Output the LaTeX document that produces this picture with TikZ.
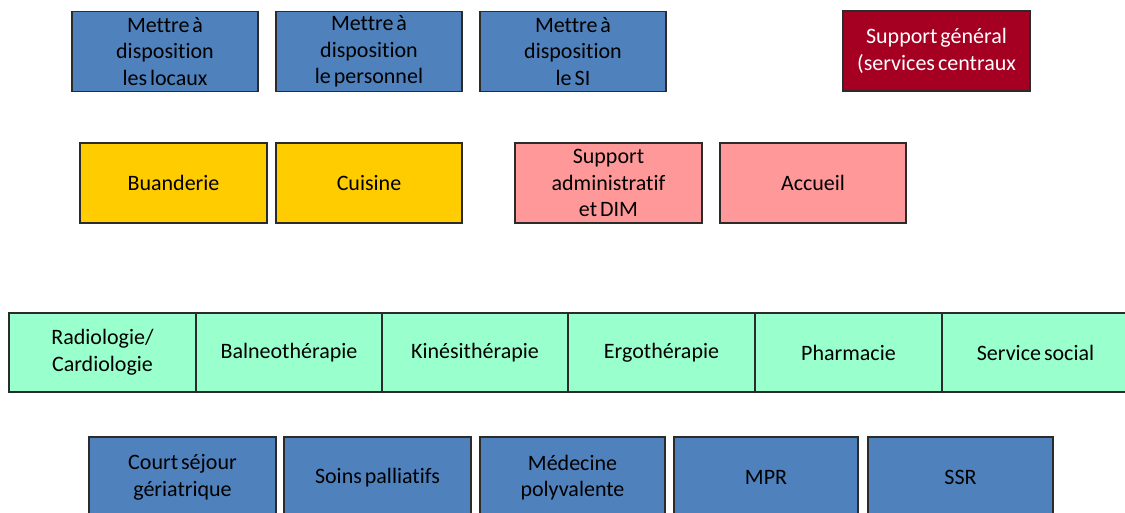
\documentclass[tikz,border=0pt]{standalone}
\usepackage{fontspec}
\setmainfont[WordSpace=0.6,Ligatures={NoCommon}]{Carlito}
\definecolor{cblue}{HTML}{4F81BD}
\definecolor{cred}{HTML}{A50021}
\definecolor{cyellow}{HTML}{FFCC00}
\definecolor{cpink}{HTML}{FF9999}
\definecolor{cgreen}{HTML}{99FFCC}
\definecolor{cline}{HTML}{2B2B2B}
\tikzset{
  box/.style={draw=cline, line width=1.1pt, rectangle, inner sep=0pt, align=center,
    minimum height=80pt, font=\fontsize{22}{26.5}\selectfont, text=black},
  wbox/.style={box, minimum width=186pt},
}
\begin{document}
\begin{tikzpicture}[x=1pt,y=-1pt]
\useasboundingbox (0,0) rectangle (1125,513);
\fill[white] (0,0) rectangle (1125,513);
% Row 1
\node[wbox, fill=cblue] (l1) at (165,51.5) {Mettre à\\disposition\\les locaux};
\node[wbox, fill=cblue] (l2) at (369,51.5) {Mettre à\\disposition\\le personnel};
\node[wbox, fill=cblue] (l3) at (573,51.5) {Mettre à\\disposition\\le SI};
\node[box, minimum width=187pt, fill=cred, text=white] (sg) at (936.5,51) {Support général\\(services centraux};
% Row 2
\node[box, minimum width=187pt, fill=cyellow] (buan) at (173.5,183) {Buanderie};
\node[wbox, fill=cyellow] (cuis) at (369,183) {Cuisine};
\node[box, minimum width=187pt, fill=cpink] (sadm) at (608.5,183) {Support\\administratif\\et DIM};
\node[wbox, fill=cpink] (acc) at (813,183) {Accueil};
% Row 3
\node[box, minimum width=187pt, minimum height=79pt, fill=cgreen] (radio) at (102.5,352.5) {Radiologie/\\Cardiologie};
\node[box, minimum width=186pt, minimum height=79pt, fill=cgreen] (balneo) at (289,352.5) {Balneothérapie};
\node[box, minimum width=186pt, minimum height=79pt, fill=cgreen] (kine) at (475,352.5) {Kinésithérapie};
\node[box, minimum width=187pt, minimum height=79pt, fill=cgreen] (ergo) at (661.5,352.5) {Ergothérapie};
\node[box, minimum width=187pt, minimum height=79pt, fill=cgreen] (pharma) at (848.5,352.5) {Pharmacie};
\node[box, minimum width=187pt, minimum height=79pt, fill=cgreen] (social) at (1035.5,352.5) {Service social};
% Row 4
\node[box, minimum width=187pt, minimum height=81pt, fill=cblue] (court) at (182.5,477.5) {Court séjour\\gériatrique};
\node[box, minimum width=187pt, minimum height=81pt, fill=cblue] (soins) at (377.5,477.5) {Soins palliatifs};
\node[box, minimum width=185pt, minimum height=81pt, fill=cblue] (medpoly) at (572.5,477.5) {Médecine\\polyvalente};
\node[box, minimum width=184pt, minimum height=81pt, fill=cblue] (mpr) at (766,477.5) {MPR};
\node[box, minimum width=185pt, minimum height=81pt, fill=cblue] (ssr) at (960.5,477.5) {SSR};
\end{tikzpicture}
\end{document}
